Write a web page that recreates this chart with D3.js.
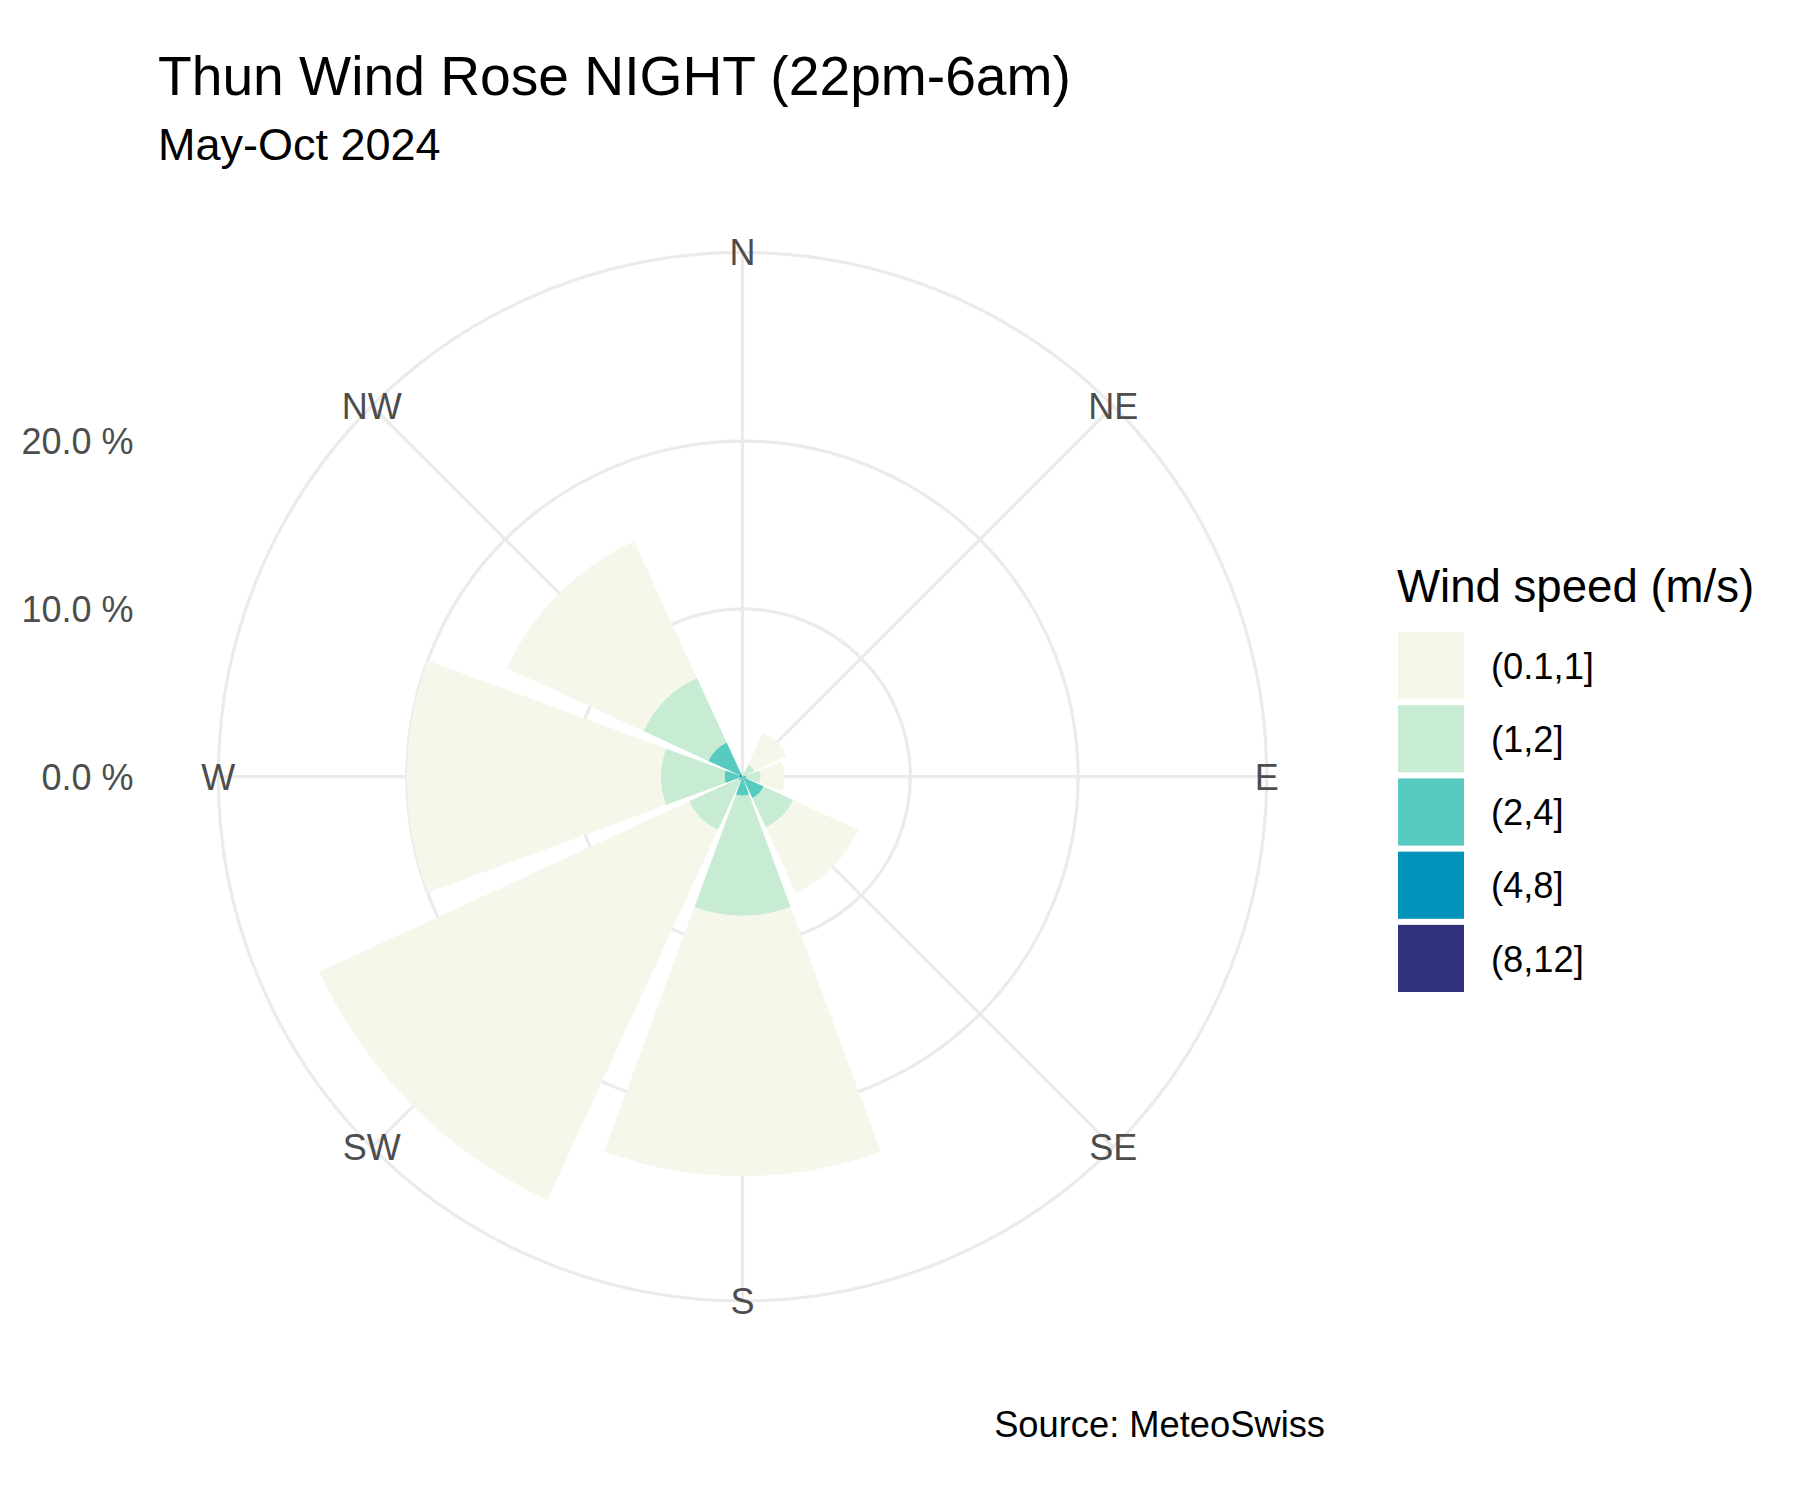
<!DOCTYPE html>
<html>
<head>
<meta charset="utf-8">
<script src="https://cdn.jsdelivr.net/npm/d3@7"></script>
<style>
  html, body { margin: 0; padding: 0; background: #ffffff; }
  svg { display: block; font-family: "Liberation Sans", Arial, sans-serif; }
</style>
</head>
<body>
<svg id="chart" width="1800" height="1500"></svg>
<script>
// ---------------- data ----------------
const directions = ["N", "NE", "E", "SE", "S", "SW", "W", "NW"];
const speedBins = ["(0.1,1]", "(1,2]", "(2,4]", "(4,8]", "(8,12]"];
const binColors = ["#F5F7EB", "#C8ECD3", "#57CBBF", "#0292BA", "#30337C"];
// percentage of observations per direction for each wind-speed bin
const speed01_1 = [0.05, 2.10, 1.43, 4.27, 15.50, 24.27, 15.14, 8.95];
const speed1_2  = [0.05, 0.70, 0.85, 1.93, 7.17, 3.25, 3.79, 4.25];
const speed2_4  = [0.00, 0.10, 0.20, 1.30, 1.05, 0.25, 0.92, 2.05];
const speed4_8  = [0.00, 0.00, 0.03, 0.10, 0.08, 0.00, 0.13, 0.17];
const speed8_12 = [0.00, 0.00, 0.00, 0.00, 0.00, 0.00, 0.02, 0.03];
const rTicks = [0, 10, 20];
const titleText = "Thun Wind Rose NIGHT (22pm-6am)";
const subtitleText = "May-Oct 2024";
const legendTitle = "Wind speed (m/s)";
const captionText = "Source: MeteoSwiss";

// ---------------- build table ----------------
const seriesByBin = {
  "(0.1,1]": speed01_1, "(1,2]": speed1_2, "(2,4]": speed2_4,
  "(4,8]": speed4_8, "(8,12]": speed8_12
};
const table = directions.map((d, i) => {
  const row = { dir: d };
  speedBins.forEach(b => row[b] = seriesByBin[b][i]);
  return row;
});
// first bin stacked outermost (ggplot position_stack order)
const stackKeys = speedBins.slice().reverse();
const stacked = d3.stack().keys(stackKeys)(table);
const color = d3.scaleOrdinal().domain(speedBins).range(binColors);

// ---------------- layout ----------------
const svg = d3.select("#chart");
const panelLeft = 160, panelTop = 194.2, panelSize = 1165;
const cx = panelLeft + panelSize / 2, cy = panelTop + panelSize / 2;
const maxTotal = d3.max(table, r => d3.sum(speedBins, b => r[b]));

const r = d3.scaleLinear().domain([0, maxTotal]).range([0, 0.4 * panelSize]);
const outerR = 0.45 * panelSize;
const step = 2 * Math.PI / directions.length;
const theta = d3.scaleBand().domain(directions)
  .range([-step / 2, 2 * Math.PI - step / 2])
  .paddingInner(0.1).paddingOuter(0.05);

const g = svg.append("g").attr("transform", `translate(${cx},${cy})`);
const gridColor = "#EBEBEB", gridW = 3.2;

// radial circles (breaks inside data range) plus the outer 0.45 circle
const circleRadii = rTicks.filter(t => t > 0 && t <= maxTotal).map(t => r(t)).concat([outerR]);
g.append("g").selectAll("circle").data(circleRadii).join("circle")
  .attr("r", d => d).attr("fill", "none")
  .attr("stroke", gridColor).attr("stroke-width", gridW);

// spokes
g.append("g").selectAll("line").data(directions).join("line")
  .attr("x1", 0).attr("y1", 0)
  .attr("x2", d => outerR * Math.sin(theta(d) + theta.bandwidth() / 2))
  .attr("y2", d => -outerR * Math.cos(theta(d) + theta.bandwidth() / 2))
  .attr("stroke", gridColor).attr("stroke-width", gridW);

// bars
const arc = d3.arc()
  .innerRadius(d => r(d[0]))
  .outerRadius(d => r(d[1]))
  .startAngle(d => theta(d.data.dir))
  .endAngle(d => theta(d.data.dir) + theta.bandwidth());

g.append("g").selectAll("g").data(stacked).join("g")
  .attr("fill", s => color(s.key))
  .selectAll("path").data(s => s).join("path")
  .attr("d", arc);

// direction labels on the outer circle
g.append("g").selectAll("text").data(directions).join("text")
  .attr("x", d => outerR * Math.sin(theta(d) + theta.bandwidth() / 2))
  .attr("y", d => -outerR * Math.cos(theta(d) + theta.bandwidth() / 2))
  .attr("text-anchor", "middle").attr("dy", "0.36em")
  .attr("font-size", 36).attr("fill", "#4D4D4D")
  .text(d => d);

// r axis labels on the left
svg.append("g").selectAll("text").data(rTicks).join("text")
  .attr("x", 133.5).attr("y", d => cy - r(d))
  .attr("text-anchor", "end").attr("dy", "0.36em")
  .attr("font-size", 36).attr("fill", "#4D4D4D")
  .text(d => d3.format(".1f")(d) + " %");

// titles
svg.append("text").attr("x", 158).attr("y", 95)
  .attr("font-size", 55.2).attr("fill", "#000").text(titleText);
svg.append("text").attr("x", 158).attr("y", 160)
  .attr("font-size", 45).attr("fill", "#000").text(subtitleText);
svg.append("text").attr("x", 1325).attr("y", 1437)
  .attr("text-anchor", "end")
  .attr("font-size", 36.3).attr("fill", "#000").text(captionText);

// legend
const lg = svg.append("g").attr("transform", "translate(1398,0)");
lg.append("text").attr("x", -1).attr("y", 602)
  .attr("font-size", 45.6).attr("fill", "#000").text(legendTitle);
const keyY = d3.scaleBand().domain(speedBins).range([632, 632 + 72 * speedBins.length]).paddingInner(6 / 72);
lg.selectAll("rect").data(speedBins).join("rect")
  .attr("x", 0).attr("y", d => keyY(d))
  .attr("width", 66).attr("height", keyY.bandwidth())
  .attr("fill", d => color(d));
lg.selectAll("text.lab").data(speedBins).join("text").attr("class", "lab")
  .attr("x", 93).attr("y", d => keyY(d) + keyY.bandwidth() / 2)
  .attr("dy", "0.36em")
  .attr("font-size", 36.3).attr("fill", "#000").text(d => d);
</script>
</body>
</html>
